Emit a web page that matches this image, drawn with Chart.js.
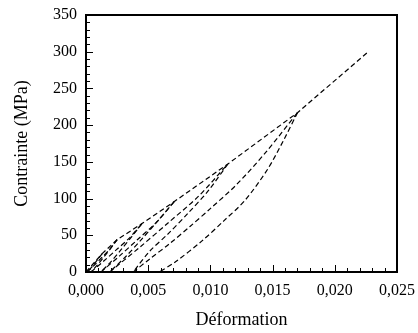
<!DOCTYPE html>
<html>
<head>
<meta charset="utf-8">
<script src="https://cdn.jsdelivr.net/npm/chart.js@4.4.1/dist/chart.umd.min.js"></script>
<style>
    html, body { margin: 0; padding: 0; background: #fff; }
    #wrap { width: 418px; height: 333px; }
</style>
</head>
<body>
<div id="wrap"><canvas id="stress-strain-chart"></canvas></div>
<script>
// Axis ticks
const xTicks = [0, 0.005, 0.010, 0.015, 0.020, 0.025];
const yTicks = [0, 50, 100, 150, 200, 250, 300, 350];

// Envelope (monotonic loading) : [strain, stress MPa]
const envelope = [[0, 0], [0.0013, 25], [0.0025, 44], [0.0045, 66], [0.0071, 96], [0.0114, 147], [0.0170, 217], [0.0227, 300]];

// Unloading branches, peak -> residual strain
const unload1 = [[0.0013, 25], [0.0010, 18.3], [0.0007, 11.8], [0.0004, 5.5], [0.0001, 0]];
const unload2 = [[0.0025, 44], [0.00198, 32.1], [0.00145, 20.7], [0.00093, 9.7], [0.0004, 0]];
const unload3 = [[0.0045, 66], [0.00368, 48.2], [0.00285, 31], [0.00203, 14.5], [0.0012, 0]];
const unload4 = [[0.0071, 96], [0.0058, 70], [0.0045, 45.1], [0.0032, 21.1], [0.0019, 0]];
const unload5 = [[0.0114, 147], [0.0098, 110], [0.0082, 80], [0.0066, 52], [0.0051, 28], [0.0038, 0]];
// last unloading, reloaded along the same path up to 300 MPa
const unload6 = [[0.0170, 217], [0.0159, 180], [0.0146, 140], [0.0128, 98], [0.0111, 70], [0.0093, 42], [0.0072, 14], [0.0059, 0]];

// Reloading branches, residual strain -> next peak
const reload1 = [[0.0001, 0], [0.0007, 9.9], [0.0013, 20.2], [0.0019, 30.8], [0.0025, 44]];
const reload2 = [[0.0004, 0], [0.00143, 14.9], [0.00245, 30.4], [0.00348, 46.2], [0.0045, 66]];
const reload3 = [[0.0012, 0], [0.00268, 21.6], [0.00415, 44.2], [0.00563, 67.2], [0.0071, 96]];
const reload4 = [[0.0019, 0], [0.00428, 33.1], [0.00665, 67.6], [0.00903, 102.9], [0.0114, 147]];
const reload5 = [[0.0038, 0], [0.00514, 18], [0.00675, 39], [0.00836, 62], [0.00997, 86], [0.0121, 119], [0.0145, 164], [0.0170, 217]];

const curves = [envelope, unload1, reload1, unload2, reload2, unload3, reload3,
    unload4, reload4, unload5, reload5, unload6];

Chart.defaults.font.family = "'Liberation Serif', 'Times New Roman', serif";
Chart.defaults.color = '#000';

// Frame + inward major/minor ticks, like the original plot
const frameTicks = {
    id: 'frameTicks',
    afterDraw(chart) {
        const ctx = chart.ctx;
        const { left, right, top, bottom } = chart.chartArea;
        const xs = chart.scales.x, ys = chart.scales.y;
        ctx.save();
        ctx.strokeStyle = '#000';
        ctx.lineWidth = 1;
        ctx.beginPath();
        for (let i = 0; i <= 25; i++) {
            const px = Math.round(xs.getPixelForValue(i / 1000)) + 0.5;
            const len = i % 5 === 0 ? 7 : 4;
            ctx.moveTo(px, bottom);
            ctx.lineTo(px, bottom - len);
        }
        for (let i = 0; i <= 35; i++) {
            const py = Math.round(ys.getPixelForValue(i * 10)) + 0.5;
            const len = i % 5 === 0 ? 7 : 4;
            ctx.moveTo(left, py);
            ctx.lineTo(left + len, py);
        }
        ctx.stroke();
        ctx.lineWidth = 2;
        ctx.strokeRect(left, top, right - left, bottom - top);
        ctx.restore();
    }
};

const ctx = document.getElementById('stress-strain-chart').getContext('2d');
const chart = new Chart(ctx, {
    type: 'scatter',
    data: {
        datasets: curves.map(c => ({
            data: c.map(p => ({ x: p[0], y: p[1] })),
            showLine: true,
            borderColor: '#000',
            borderWidth: 1.2,
            borderDash: [5, 3],
            pointRadius: 0,
            tension: c === envelope ? 0 : 0.3,
            fill: false
        }))
    },
    options: {
        responsive: true,
        maintainAspectRatio: false,
        animation: false,
        layout: { padding: { top: 15, right: 21, left: 0, bottom: 0 } },
        plugins: {
            legend: { display: false },
            tooltip: { enabled: false }
        },
        scales: {
            x: {
                type: 'linear',
                min: 0,
                max: 0.025,
                afterFit: s => {
                    s.height = 61;
                    s.paddingLeft = 0;
                    s.paddingRight = 0;
                },
                afterBuildTicks: s => { s.ticks = xTicks.map(v => ({ value: v })); },
                ticks: {
                    padding: 9,
                    font: { size: 16 },
                    maxRotation: 0,
                    callback: v => v.toFixed(3).replace('.', ',')
                },
                grid: { display: false, drawTicks: false },
                border: { display: false },
                title: {
                    display: true,
                    text: 'Déformation',
                    font: { size: 18 },
                    padding: { top: 0, bottom: 2 }
                }
            },
            y: {
                type: 'linear',
                min: 0,
                max: 350,
                afterFit: s => {
                    s.width = 86;
                    s.paddingTop = 0;
                    s.paddingBottom = 0;
                },
                afterBuildTicks: s => { s.ticks = yTicks.map(v => ({ value: v })); },
                ticks: {
                    padding: 9,
                    font: { size: 16 }
                },
                grid: { display: false, drawTicks: false },
                border: { display: false },
                title: {
                    display: true,
                    text: 'Contrainte (MPa)',
                    font: { size: 18 },
                    padding: { top: 11, bottom: 0 }
                }
            }
        }
    },
    plugins: [frameTicks]
});
</script>
</body>
</html>
